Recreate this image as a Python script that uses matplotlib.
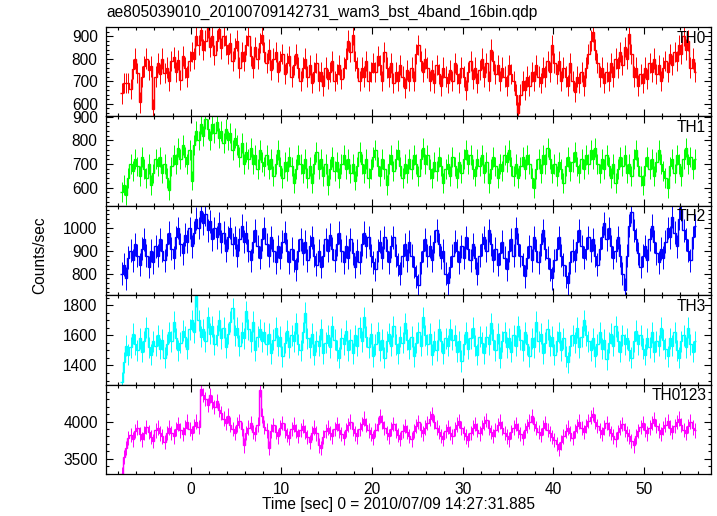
import numpy as np
import matplotlib
matplotlib.use("Agg")
import matplotlib.pyplot as plt
from matplotlib.ticker import MultipleLocator

plt.rcParams['font.family'] = ['Liberation Sans', 'DejaVu Sans']

TITLE = "ae805039010_20100709142731_wam3_bst_4band_16bin.qdp"
XLABEL = "Time [sec] 0 = 2010/07/09 14:27:31.885"
YLABEL = "Counts/sec"
T0 = -7.75
DT = 0.25

labels = ["TH0", "TH1", "TH2", "TH3", "TH0123"]
colors = ["#ff0000", "#00ff00", "#0000ff", "#00ffff", "#ff00ff"]

th0 = [
    645, 690, 690, 690, 665, 755, 800, 735, 605, 720, 765, 800, 750, 765, 575, 720,
    780, 730, 800, 735, 760, 700, 790, 805, 740, 795, 705, 810, 760, 720, 790, 830,
    800, 900, 860, 925, 840, 880, 935, 850, 900, 815, 880, 930, 845, 900, 860, 820,
    870, 790, 845, 880, 760, 830, 790, 860, 900, 810, 760, 850, 800, 870, 905, 830,
    780, 840, 750, 800, 830, 740, 790, 820, 730, 780, 810, 720, 770, 820, 760, 700,
    760, 800, 720, 770, 690, 740, 780, 700, 740, 680, 760, 710, 740, 790, 700, 730,
    770, 710, 760, 800, 880, 830, 905, 790, 760, 700, 760, 720, 790, 700, 740, 780,
    740, 810, 770, 700, 830, 760, 720, 780, 690, 740, 700, 770, 720, 670, 750, 700,
    760, 700, 820, 860, 790, 740, 800, 760, 700, 750, 690, 770, 730, 680, 760, 720,
    690, 750, 700, 780, 730, 690, 760, 720, 660, 740, 790, 710, 760, 690, 750, 800,
    720, 780, 700, 840, 790, 730, 770, 700, 760, 720, 680, 770, 730, 700, 640, 560,
    640, 700, 660, 720, 680, 740, 700, 770, 720, 690, 760, 720, 790, 740, 860, 780,
    730, 790, 700, 760, 720, 680, 780, 700, 650, 720, 690, 740, 680, 760, 820, 880,
    920, 840, 780, 720, 760, 690, 740, 700, 780, 720, 800, 760, 830, 770, 850, 800,
    910, 820, 720, 760, 680, 730, 690, 760, 710, 780, 740, 800, 730, 770, 700, 760,
    790, 740, 820, 770, 830, 790, 860, 820, 900, 840, 880, 760, 800, 740,
]
th1 = [
    580, 610, 570, 640, 700, 670, 720, 690, 650, 730, 680, 640, 700, 610, 660, 720,
    690, 730, 660, 700, 640, 590, 690, 740, 700, 770, 720, 780, 730, 700, 760, 630,
    780, 840, 800, 870, 820, 890, 850, 800, 870, 830, 880, 810, 840, 790, 850, 800,
    830, 760, 810, 780, 730, 790, 700, 750, 720, 770, 700, 740, 680, 760, 710, 690,
    740, 680, 720, 650, 700, 760, 690, 640, 710, 670, 730, 690, 620, 680, 740, 700,
    660, 720, 640, 690, 620, 700, 750, 680, 720, 650, 700, 610, 680, 730, 670, 710,
    640, 700, 740, 680, 720, 660, 700, 630, 690, 750, 700, 660, 720, 640, 680, 730,
    760, 690, 650, 720, 680, 610, 700, 740, 670, 720, 760, 690, 640, 700, 660, 720,
    680, 740, 700, 650, 720, 770, 700, 740, 680, 640, 710, 670, 730, 690, 620, 680,
    700, 650, 730, 690, 640, 710, 660, 720, 760, 700, 740, 680, 650, 720, 690, 740,
    660, 710, 620, 680, 730, 690, 640, 700, 670, 740, 710, 760, 690, 650, 700, 640,
    690, 730, 680, 740, 700, 640, 600, 680, 720, 660, 740, 700, 770, 720, 660, 700,
    650, 710, 680, 620, 690, 730, 670, 710, 750, 690, 660, 720, 680, 740, 700, 760,
    720, 770, 700, 660, 720, 680, 740, 690, 640, 700, 620, 680, 730, 690, 740, 660,
    700, 650, 720, 760, 690, 650, 610, 690, 730, 680, 720, 650, 710, 760, 700, 670,
    640, 600, 690, 720, 660, 740, 700, 650, 720, 770, 700, 730, 680, 720,
]
th2 = [
    800, 840, 780, 870, 900, 860, 930, 880, 840, 910, 950, 880, 830, 900, 850, 920,
    880, 950, 900, 860, 930, 980, 910, 870, 960, 1000, 930, 890, 970, 940, 1000, 920,
    980, 1040, 1000, 1075, 1020, 1060, 990, 1030, 950, 1000, 960, 1020, 940, 980, 900, 960,
    1000, 930, 960, 880, 950, 1010, 940, 980, 900, 860, 940, 990, 920, 870, 950, 1000,
    930, 880, 960, 900, 850, 920, 870, 940, 980, 900, 850, 910, 860, 820, 900, 950,
    890, 940, 860, 920, 960, 880, 840, 900, 830, 880, 950, 900, 970, 910, 860, 930,
    980, 900, 850, 920, 870, 950, 890, 830, 900, 850, 930, 980, 920, 960, 880, 850,
    820, 900, 940, 870, 960, 900, 850, 920, 960, 880, 840, 800, 880, 930, 860, 940,
    880, 830, 790, 750, 850, 900, 950, 880, 920, 860, 940, 990, 930, 870, 900, 800,
    760, 830, 880, 940, 900, 850, 920, 870, 960, 910, 860, 930, 870, 800, 880, 930,
    960, 900, 990, 930, 860, 910, 840, 890, 940, 870, 820, 900, 950, 880, 1000, 930,
    880, 840, 790, 870, 920, 860, 960, 900, 850, 930, 990, 910, 870, 820, 780, 860,
    910, 960, 880, 840, 790, 760, 850, 900, 860, 940, 990, 920, 870, 910, 960, 900,
    950, 880, 840, 910, 960, 1020, 950, 1000, 920, 870, 900, 960, 880, 800, 730, 880,
    1010, 1070, 990, 950, 890, 830, 880, 920, 860, 950, 1010, 940, 890, 850, 910, 870,
    940, 1000, 960, 1050, 980, 920, 1040, 1080, 990, 950, 900, 860, 960, 1010,
]
th3 = [
    1290, 1420, 1530, 1470, 1520, 1610, 1540, 1500, 1580, 1490, 1560, 1650, 1520, 1470, 1560, 1530,
    1600, 1510, 1570, 1450, 1540, 1620, 1560, 1690, 1580, 1500, 1550, 1630, 1590, 1510, 1640, 1700,
    1620, 1860, 1700, 1590, 1640, 1560, 1720, 1610, 1660, 1540, 1600, 1700, 1580, 1650, 1520, 1610,
    1690, 1780, 1600, 1650, 1530, 1620, 1580, 1760, 1640, 1560, 1690, 1500, 1590, 1640, 1560, 1620,
    1540, 1610, 1480, 1570, 1650, 1530, 1590, 1460, 1550, 1630, 1520, 1600, 1560, 1680, 1540, 1500,
    1620, 1750, 1580, 1520, 1610, 1470, 1560, 1530, 1640, 1480, 1550, 1600, 1520, 1660, 1570, 1500,
    1450, 1580, 1540, 1630, 1500, 1570, 1480, 1600, 1530, 1650, 1560, 1720, 1590, 1520, 1610, 1460,
    1540, 1620, 1500, 1570, 1450, 1560, 1610, 1530, 1660, 1540, 1480, 1590, 1550, 1680, 1570, 1510,
    1590, 1460, 1550, 1620, 1530, 1720, 1600, 1540, 1610, 1470, 1560, 1500, 1640, 1560, 1480, 1580,
    1530, 1640, 1570, 1600, 1490, 1560, 1430, 1540, 1620, 1510, 1580, 1650, 1530, 1470, 1590, 1550,
    1480, 1590, 1540, 1680, 1570, 1500, 1610, 1450, 1560, 1620, 1520, 1580, 1490, 1600, 1530, 1660,
    1570, 1500, 1620, 1540, 1460, 1580, 1520, 1690, 1560, 1610, 1480, 1550, 1640, 1530, 1590, 1470,
    1560, 1620, 1500, 1580, 1460, 1420, 1530, 1600, 1550, 1650, 1520, 1590, 1700, 1600, 1560, 1500,
    1580, 1460, 1540, 1620, 1510, 1570, 1440, 1550, 1610, 1530, 1660, 1560, 1490, 1600, 1540, 1580,
    1500, 1450, 1560, 1630, 1540, 1600, 1510, 1470, 1580, 1520, 1620, 1490, 1560, 1530, 1650, 1570,
    1510, 1460, 1580, 1530, 1620, 1500, 1450, 1560, 1600, 1520, 1650, 1540, 1490, 1560,
]
th0123 = [
    3300, 3520, 3650, 3780, 3820, 3760, 3870, 3920, 3830, 3760, 3850, 3930, 3860, 3790, 3740, 3880,
    3920, 3840, 3800, 3730, 3850, 3920, 3850, 3800, 3900, 3970, 3880, 3830, 3920, 4000, 3900, 3850,
    3940, 4000, 3930, 4440, 4360, 4300, 4220, 4350, 4260, 4190, 4280, 4150, 4110, 4040, 3980, 4080,
    3960, 3900, 3850, 3960, 4010, 3900, 3680, 3850, 3920, 3980, 3860, 3830, 3960, 4420, 4080, 3930,
    3880, 3640, 3870, 3950, 3860, 3800, 3920, 3980, 3880, 3820, 3780, 3900, 3960, 3870, 3810, 3890,
    3940, 3860, 3790, 3730, 3850, 3920, 3840, 3680, 3640, 3790, 3870, 3920, 3850, 3800, 3900, 3970,
    3880, 3830, 3780, 3890, 3950, 4000, 3900, 3840, 3800, 3900, 3970, 4040, 3950, 3880, 3830, 3780,
    3890, 3970, 4070, 3990, 3910, 3850, 3800, 3900, 3970, 3880, 3820, 3770, 3870, 3940, 3860, 3810,
    3760, 3870, 3940, 3990, 3890, 3840, 3920, 3980, 4040, 4100, 3990, 3920, 3860, 3810, 3770, 3870,
    3930, 3850, 3800, 3900, 3960, 4010, 3910, 3850, 3800, 3750, 3850, 3920, 3970, 3890, 3840, 3920,
    3980, 4020, 3920, 3860, 3810, 3890, 3950, 4000, 3910, 3850, 3800, 3760, 3860, 3920, 3970, 3880,
    3830, 3780, 3880, 3940, 4000, 4070, 3970, 3910, 3860, 3820, 3920, 3980, 3890, 3840, 3790, 3750,
    3700, 3630, 3720, 3800, 3870, 3920, 3840, 3780, 3870, 3940, 4000, 3910, 3860, 3940, 4010, 4060,
    4100, 4000, 3940, 3880, 3830, 3920, 3980, 3900, 3850, 3800, 3760, 3860, 3920, 3970, 3890, 3840,
    3800, 3740, 3680, 3800, 3870, 3930, 3980, 3890, 3840, 3920, 3980, 4030, 3940, 3880, 3830, 3910,
    3960, 4010, 3920, 3860, 3940, 3990, 4040, 3950, 3890, 3850, 3940, 4000, 3920, 3880,
]
series = [th0, th1, th2, th3, th0123]
errors = [45, 42, 50, 70, 95]

ylims = [(543, 940), (523, 902), (707, 1097), (1273, 1867), (3297, 4495)]
yticks_major = [100, 100, 100, 200, 500]
yticks_minor = [20, 20, 20, 50, 100]
xlim = (-9.34, 57.4)

W, H = 717, 516
fig = plt.figure(figsize=(W / 100, H / 100), dpi=100)
left, right = 106, 711
top, bottom = 27, 474
ph = (bottom - top) / 5

for i in range(5):
    y_top = top + i * ph
    ax = fig.add_axes([left / W, 1 - (y_top + ph) / H, (right - left) / W, ph / H])
    vals = np.array(series[i], dtype=float)
    n = len(vals)
    edges = T0 + DT * np.arange(n + 1)
    centers = edges[:-1] + DT / 2
    ax.vlines(centers, vals - errors[i], vals + errors[i], color=colors[i], lw=0.7)
    ax.stairs(vals, edges, color=colors[i], lw=1.0, baseline=None)
    ax.set_xlim(*xlim)
    ax.set_ylim(*ylims[i])
    ax.xaxis.set_major_locator(MultipleLocator(10))
    ax.xaxis.set_minor_locator(MultipleLocator(2))
    ax.yaxis.set_major_locator(MultipleLocator(yticks_major[i]))
    ax.yaxis.set_minor_locator(MultipleLocator(yticks_minor[i]))
    ax.tick_params(which='both', direction='in', top=True, right=True, width=0.8,
                   labelsize=11.2, pad=6)
    ax.tick_params(which='major', length=5)
    ax.tick_params(which='minor', length=2.5)
    for s in ax.spines.values():
        s.set_linewidth(0.9)
    if i < 4:
        ax.tick_params(labelbottom=False)
    ax.text(0.992, 0.875, labels[i], transform=ax.transAxes, ha='right', va='center',
            fontsize=11.2)

fig.text(left / W, 1 - 12 / H, TITLE, ha='left', va='center', fontsize=11.2)
fig.text(398 / W, 1 - 505 / H, XLABEL, ha='center', va='center', fontsize=11.2)
fig.text(40 / W, 1 - 255 / H, YLABEL, ha='center', va='center', rotation=90, fontsize=11.2)

fig.savefig("out.png", dpi=100)
